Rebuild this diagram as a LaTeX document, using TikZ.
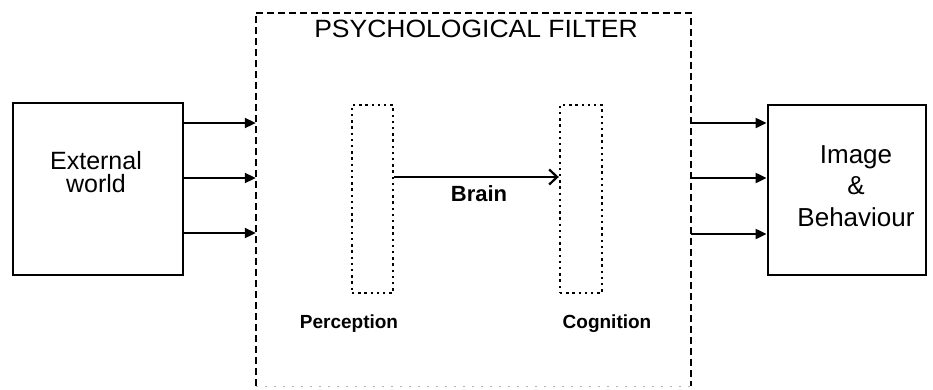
\documentclass[tikz,border=0pt]{standalone}
\usepackage{fontspec}
\setmainfont{Liberation Sans}
\usetikzlibrary{arrows.meta}
\begin{document}
\begin{tikzpicture}[x=1pt,y=-1pt,
  solidbox/.style={draw, line width=2.8pt, inner sep=0pt},
  filterline/.style={line width=2.2pt, dash pattern=on 7pt off 4pt},
  faintline/.style={line width=1pt, black!30, dash pattern=on 2pt off 7pt},
  dotbox/.style={draw, line width=2.4pt, dash pattern=on 2.4pt off 3.8pt, inner sep=0pt},
  flow/.style={line width=2pt, -{Triangle[length=11pt,width=10pt]}},
  brainflow/.style={line width=2.2pt, -{Straight Barb[length=8pt,width=15pt,line width=2.2pt]}},
  bigtext/.style={font=\fontsize{25}{23}\selectfont, align=center, inner sep=0pt},
  smalltext/.style={font=\bfseries\fontsize{19}{22}\selectfont, inner sep=0pt, anchor=base},
]
\useasboundingbox (0,0) rectangle (933,389);

% left and right solid boxes
\node[solidbox, minimum width=170pt, minimum height=172pt] (ext) at (98,189) {};
\node[solidbox, minimum width=158pt, minimum height=170pt] (img) at (847,190) {};
\node[bigtext] (extlabel) at (96,172.5) {External\\world};
\node[bigtext, font=\fontsize{26}{31.5}\selectfont] (imglabel) at (856,186) {Image\\\&\\Behaviour};

% the psychological filter frame
\node[minimum width=435pt, minimum height=373pt, inner sep=0pt] (filter) at (473.5,199.5) {};
\draw[filterline] (filter.south west) -- (filter.north west) -- (filter.north east) -- (filter.south east);
\draw[faintline] (filter.south west) -- (filter.south east);
\node[font=\fontsize{25}{28}\selectfont, inner sep=0pt, anchor=base] (title) at (476,37)
  {\scalebox{1.06}[1]{PSYCHOLOGICAL FILTER}};

% perception and cognition stages
\node[dotbox, minimum width=41pt, minimum height=188pt] (perc) at (372.5,199) {};
\node[dotbox, minimum width=42pt, minimum height=188pt] (cog) at (581,199) {};
\node[smalltext] (perclabel) at (349,328) {Perception};
\node[smalltext] (coglabel) at (607,328) {Cognition};

\coordinate (b1) at ([yshift=22pt]perc.east);
\draw[brainflow] (b1) -- (b1 -| cog.west);
\node[smalltext, font=\bfseries\fontsize{22}{24}\selectfont] (brain) at (479,201) {Brain};

% inputs from the external world
\coordinate (e1) at ([yshift=66pt]ext.east);
\coordinate (e2) at ([yshift=11pt]ext.east);
\coordinate (e3) at ([yshift=-44pt]ext.east);
\draw[flow] (e1) -- (e1 -| filter.west);
\draw[flow] (e2) -- (e2 -| filter.west);
\draw[flow] (e3) -- (e3 -| filter.west);

% outputs to image and behaviour
\coordinate (o1) at ([yshift=67pt]img.west);
\coordinate (o2) at ([yshift=12pt]img.west);
\coordinate (o3) at ([yshift=-44pt]img.west);
\draw[flow] (o1 -| filter.east) -- (o1);
\draw[flow] (o2 -| filter.east) -- (o2);
\draw[flow] (o3 -| filter.east) -- (o3);
\end{tikzpicture}
\end{document}
